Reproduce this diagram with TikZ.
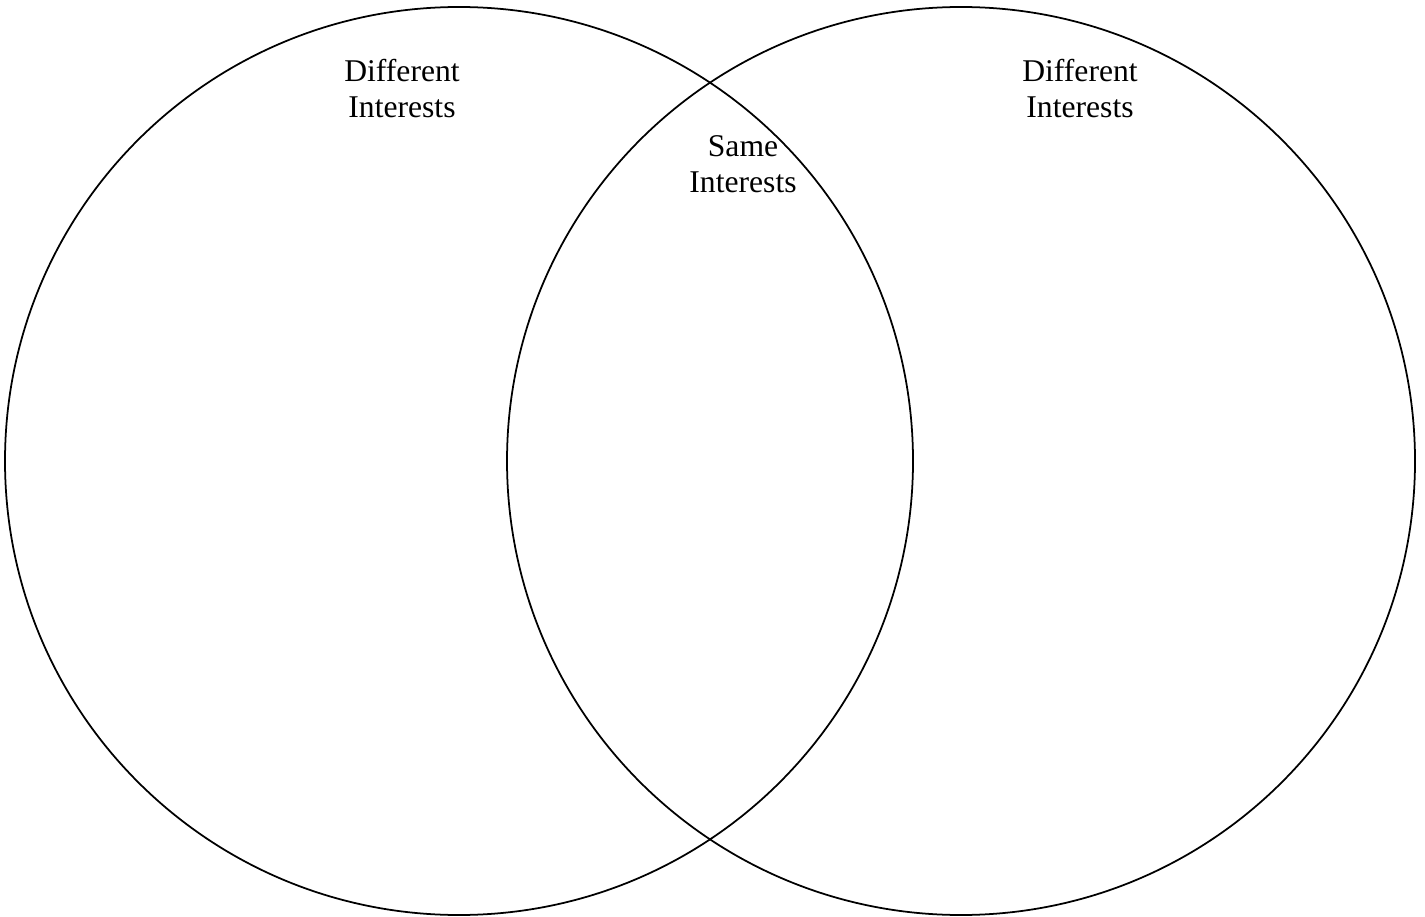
\documentclass[tikz,border=0pt]{standalone}
\usepackage{fontspec}
\setmainfont{Liberation Serif}
\usepackage{tikz}
\usetikzlibrary{positioning}

\begin{document}
\begin{tikzpicture}
    \useasboundingbox (0,0) rectangle (28.5,18.32);
    %left set
    \node[draw, line width=1pt, circle, inner sep=0pt, minimum size=18.16cm] at (9.18,9.10) (leftset) {};
    %right set
    \node[draw, line width=1pt, circle, inner sep=0pt, minimum size=18.16cm] at (19.22,9.10) (rightset) {};
    %labels
    \node[align=center, font=\fontsize{18}{20.5}\selectfont] at (8.04,16.54) (leftlbl) {Different\\Interests};
    \node[align=center, font=\fontsize{18}{20.5}\selectfont] at (21.6,16.54) (rightlbl) {Different\\Interests};
    \node[align=center, font=\fontsize{18}{20.5}\selectfont] at (14.86,15.04) (samelbl) {Same\\Interests};
\end{tikzpicture}
\end{document}
